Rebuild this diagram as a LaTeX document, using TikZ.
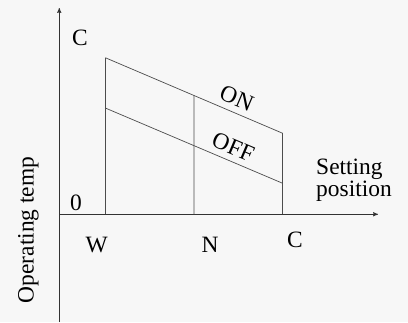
\documentclass[tikz,border=0pt]{standalone}
\usepackage{fontspec}
\setmainfont{Liberation Serif}
\usetikzlibrary{arrows, intersections, calc}

\begin{document}
\begin{tikzpicture}[
            x=0.03cm, y=0.03cm,
            axis/.style={line width=0.6pt, black!80},
            boundary/.style={line width=0.6pt, black!70},
            lbl/.style={font=\fontsize{20}{23}\selectfont, inner sep=0pt, text=black},
            >=stealth']

        \fill[black!3] (0,0) rectangle (408,322);
        \useasboundingbox (0,0) rectangle (408,322);

        \path (59.3,107.7) coordinate (origin);
        \path (59.3,0) coordinate (ybot);
        \path (59.3,314) coordinate (ytop);
        \path (378,107.7) coordinate (xend);
        \path (105.3,107.7) coordinate (W0);
        \path (194,107.7) coordinate (N0);
        \path (282.7,107.7) coordinate (C0);

        \path (105.3,264.3) coordinate (onW);
        \path (282.7,188.7) coordinate (onC);
        \path (105.3,214) coordinate (offW);
        \path (282.7,138.7) coordinate (offC);

        \node[lbl] (Ctop) at (80,284) {C};
        \node[lbl] (zero) at (76,119) {0};
        \node[lbl] (Wlbl) at (96.7,77) {W};
        \node[lbl] (Nlbl) at (210,77) {N};
        \node[lbl] (Clbl) at (295,82) {C};
        \node[lbl, align=left] (setpos) at (354,142) {Setting\\[-4pt]position};
        \node[lbl, rotate=90] (optemp) at (28.3,92) {Operating temp};

        \draw[axis,->] (ybot) -- (ytop);
        \draw[axis,->] (origin) -- (xend);

        \draw[boundary,name path=online] (onW) -- (onC)
            node[lbl, pos=0.71, above=5pt, sloped] (onlbl) {ON};
        \draw[boundary] (offW) -- (offC)
            node[lbl, pos=0.69, above=5pt, sloped] (offlbl) {OFF};
        \draw[boundary] (W0) -- (onW);
        \draw[boundary] (C0) -- (onC);
        \path[name path=lineN] (N0) -- +(0,150);
        \path[name intersections={of=online and lineN, by=onN}];
        \draw[boundary] (N0) -- (onN);
    \end{tikzpicture}
\end{document}
